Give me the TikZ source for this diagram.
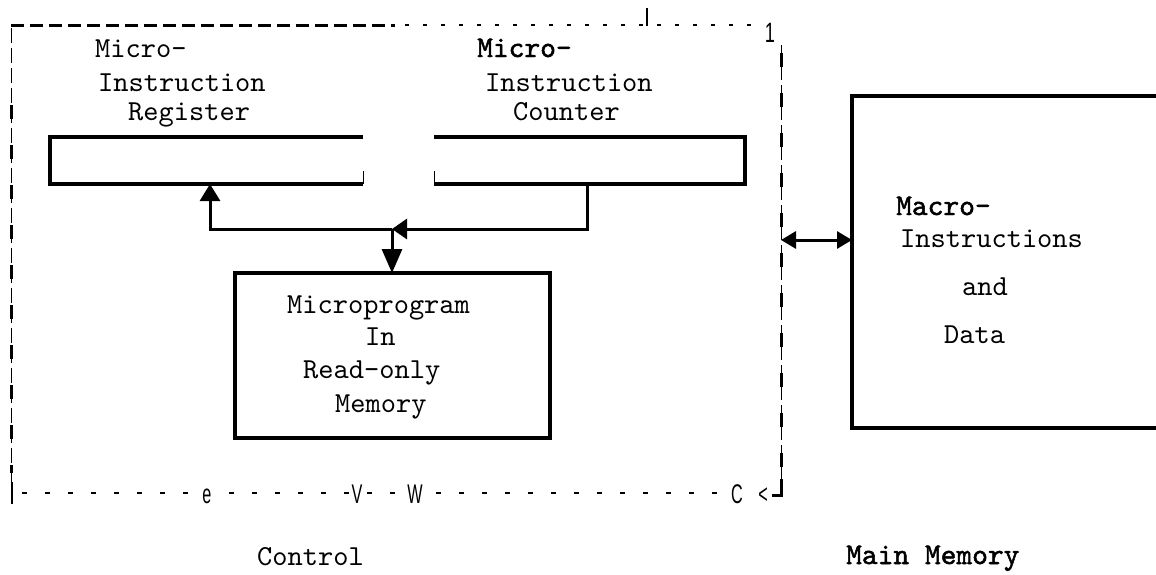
\documentclass[tikz,border=0pt]{standalone}
\usepackage{fontspec}
\newfontfamily\tw{lmmono10-regular.otf}
\newfontfamily\twb{lmmono10-regular.otf}[FakeBold=1.6]
\newfontfamily\narrow{Liberation Sans}
\usetikzlibrary{arrows.meta,calc}

\tikzset{
  hole/.style={rectangle, draw=none, inner sep=0pt, outer sep=0pt},
  lbl/.style={anchor=base west, inner sep=0pt, font=\tw\fontsize{29}{32}\selectfont},
  lblb/.style={anchor=base west, inner sep=0pt, font=\twb\fontsize{30}{32}\selectfont},
  scrap/.style={anchor=base, inner sep=1.5pt, fill=white, font=\narrow\fontsize{27}{27}\selectfont},
  box/.style={line width=3.2pt, line join=miter},
  bigbox/.style={line width=4.5pt, line join=miter},
  conn/.style={line width=3pt},
  thinframe/.style={line width=1pt},
  thickframe/.style={line width=3pt},
}

\begin{document}
\begin{tikzpicture}[x=1pt, y=-1pt]
\useasboundingbox[fill=white] (0,0) rectangle (1156,574);

% ---------- outline nodes ----------
\node[hole, minimum width=770pt, minimum height=468pt] (ctl) at (396,259) {};
\node[hole, minimum width=313pt, minimum height=47pt]  (reg) at (206.5,160.5) {};
\node[hole, minimum width=311pt, minimum height=47pt]  (ctr) at (589.5,160.5) {};
\node[hole, minimum width=315pt, minimum height=165pt] (rom) at (392.5,355.5) {};
\node[hole, minimum width=312pt, minimum height=332pt] (mm)  at (1008,262) {};

% ---------- control-unit frame (dashed) ----------
\coordinate (tmid) at (395,25);
\coordinate (tend) at (760,25);
\coordinate (rtop) at (781,45);
\coordinate (rbot) at (781,481);
\coordinate (bstart) at (22,493);
\coordinate (bend) at (768,493);
% top edge
\draw[thickframe, dash pattern=on 13pt off 6pt] (ctl.north west) -- (tmid);
\draw[thinframe, line width=1.2pt, dash pattern=on 4pt off 14pt] ([xshift=10pt]tmid) -- (tend);
\draw[line width=1.4pt] (647,8) -- (647,26);
\node[anchor=base, inner sep=0pt, font=\narrow\fontsize{28}{28}\selectfont] (one) at (770,42) {\scalebox{0.65}[1]{1}};
% left edge
\draw[thinframe, dash pattern=on 15pt off 5pt] ([yshift=-3pt]ctl.north west) -- (ctl.south west);
\draw[thickframe, dash pattern=on 14pt off 26pt, dash phase=-20pt] ([yshift=-60pt]ctl.north west) -- ([yshift=20pt]ctl.south west);
\draw[line width=1.6pt] (12,482) -- (12,504);
% right edge
\draw[thinframe, dash pattern=on 15pt off 5pt] (rtop) -- (rbot);
\draw[thickframe, dash pattern=on 14pt off 26pt, dash phase=-8pt] (rtop) -- (rbot);
\draw[thickframe, line cap=rect] (781,480) -- (781,495) -- (773,495);
% bottom edge
\draw[line width=1.2pt, dash pattern=on 5pt off 18pt] (bstart) -- (bend);
\node[scrap] (s1) at (207,503) {\scalebox{0.6}[1]{e}};
\node[scrap] (s2) at (357,503) {\scalebox{0.6}[1]{V}};
\node[scrap] (s3) at (415,503) {\scalebox{0.6}[1]{W}};
\node[scrap] (s4) at (737,503) {\scalebox{0.6}[1]{C}};
\node[scrap] (s5) at (763,503) {\scalebox{0.6}[1]{<}};

% ---------- boxes ----------
\draw[box] (reg.north east) -- (reg.north west) -- (reg.south west) -- (reg.south east);
\draw[line width=1pt] ([yshift=13pt]reg.south east) -- (reg.south east);
\draw[box] (ctr.north west) -- (ctr.north east) -- (ctr.south east) -- (ctr.south west);
\draw[line width=1pt] ([yshift=13pt]ctr.south west) -- (ctr.south west);
\draw[box] (rom.north west) rectangle (rom.south east);
\draw[bigbox] (mm.north east) -- (mm.north west) -- (mm.south west) -- (mm.south east);

% ---------- labels ----------
\node[lbl]  (r1) at (95,57)  {Micro-};
\node[lbl]  (r2) at (98,91)  {Instruction};
\node[lbl]  (r3) at (128,120) {Register};

\node[lblb] (c1) at (477,57)  {Micro-};
\node[lbl]  (c2) at (485,91)  {Instruction};
\node[lbl]  (c3) at (513,120) {Counter};

\node[lbl]  (p1) at (287,313) {Microprogram};
\node[lbl]  (p2) at (365,345) {In};
\node[lbl]  (p3) at (303,378) {Read-only};
\node[lbl]  (p4) at (335,412) {Memory};

\node[lblb] (m1) at (896,215) {Macro-};
\node[lbl]  (m2) at (900,247) {Instructions};
\node[lbl]  (m3) at (962,295) {and};
\node[lbl]  (m4) at (944,343) {Data};

\node[lbl]  (t1) at (257,565) {Control};
\node[lblb] (t2) at (846,564) {Main Memory};

% ---------- connectors ----------
\coordinate (j) at (392,229);
\coordinate (busy) at (0,240);
\draw[conn, -{Triangle[length=15pt,width=20pt]}] ([xshift=-2.5pt]ctr.south) |- (j);
\draw[conn, -{Triangle[length=17pt,width=20pt]}] (j) -| ([xshift=3.5pt]reg.south);
\draw[conn, -{Triangle[length=24pt,width=20pt]}] (j) -- (rom.north -| j);
\draw[conn, {Triangle[length=15pt,width=17pt]}-{Triangle[length=15pt,width=17pt]}]
  (ctl.east |- busy) -- (mm.west |- busy);
\end{tikzpicture}
\end{document}
